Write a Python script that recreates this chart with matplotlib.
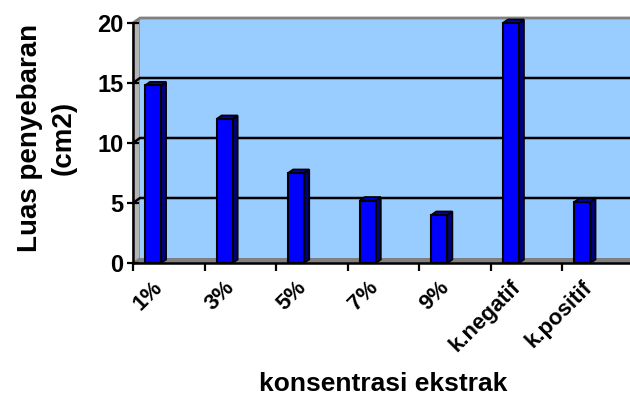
import matplotlib
matplotlib.use("Agg")
import matplotlib.pyplot as plt
from matplotlib.patches import Polygon, Rectangle

plt.rcParams['font.family'] = ['Liberation Sans', 'DejaVu Sans']
plt.rcParams['font.weight'] = 'bold'

categories = ['1%', '3%', '5%', '7%', '9%', 'k.negatif', 'k.positif']
luas = [14.8, 12.0, 7.5, 5.2, 4.0, 20.0, 5.1]
y_ticks = [0, 5, 10, 15, 20]

fig = plt.figure(figsize=(6.3, 3.97), dpi=100)
ax = fig.add_axes([133 / 630, 134 / 397, 501 / 630, 240 / 397])
n = len(categories)
ax.set_xlim(0, n)
ax.set_ylim(0, 20)
ax.patch.set_visible(False)

# depth of the walls and bars, in pixels, turned into data units
px_x = 501 / n
px_y = 240 / 20
wdx, wdy = 7 / px_x, 5 / px_y
bdx, bdy = 5 / px_x, 3.5 / px_y

# walls: left side, floor and back
ax.add_patch(Polygon([(0, 0), (0, 20), (wdx, 20 + wdy), (wdx, wdy)],
                     closed=True, facecolor='#B4B4B4', edgecolor='#808080',
                     lw=1, zorder=0, clip_on=False))
ax.add_patch(Polygon([(0, 0), (n, 0), (n + wdx, wdy), (wdx, wdy)],
                     closed=True, facecolor='#808080', edgecolor='#808080',
                     lw=1, zorder=0, clip_on=False))
ax.add_patch(Rectangle((wdx, wdy), n, 20, facecolor='#99CCFF',
                       edgecolor='none', zorder=0, clip_on=False))
ax.plot([0, wdx, n + wdx], [20, 20 + wdy, 20 + wdy], color='#808080',
        lw=2, zorder=1, clip_on=False)
for v in y_ticks[1:-1]:
    ax.plot([0, wdx, n + wdx], [v, v + wdy, v + wdy], color='black',
            lw=1.8, zorder=1, clip_on=False)

# 3d columns: front face, right side, top
bw = 0.224
for i, v in enumerate(luas):
    x0 = i + 0.168
    x1 = x0 + bw
    ax.add_patch(Polygon([(x1, 0), (x1 + bdx, bdy), (x1 + bdx, v + bdy), (x1, v)],
                         closed=True, facecolor='#000080', edgecolor='black',
                         lw=1.3, zorder=3, clip_on=False))
    ax.add_patch(Polygon([(x0, v), (x0 + bdx, v + bdy), (x1 + bdx, v + bdy), (x1, v)],
                         closed=True, facecolor='#0000CC', edgecolor='black',
                         lw=1.3, zorder=3, clip_on=False))
    ax.add_patch(Rectangle((x0, 0), bw, v, facecolor='#0000FF',
                           edgecolor='black', lw=1.5, zorder=4, clip_on=False))

for s in ['top', 'right']:
    ax.spines[s].set_visible(False)
for s in ['left', 'bottom']:
    ax.spines[s].set_linewidth(1.8)
    ax.spines[s].set_zorder(5)

ax.set_yticks(y_ticks)
ax.set_yticklabels([str(t) for t in y_ticks])
ax.tick_params(axis='y', direction='inout', length=8, width=1.6, pad=3,
               labelsize=17)

ax.set_xticks(range(n + 1))
ax.set_xticklabels([''] * (n + 1))
ax.tick_params(axis='x', which='major', direction='out', length=6, width=1.6)
ax.set_xticks([i + 0.5 - 0.23 for i in range(n)], minor=True)
ax.set_xticklabels(categories, minor=True, rotation=45, ha='right',
                   va='top', rotation_mode='anchor', fontsize=16)
ax.tick_params(axis='x', which='minor', length=0, pad=10)

fig.text(383 / 630, 1 - 384 / 397, 'konsentrasi ekstrak', fontsize=19,
         fontweight='bold', ha='center', va='center')
fig.text(47 / 630, 1 - 138 / 397, 'Luas penyebaran\n(cm2)', fontsize=20,
         fontweight='bold', ha='center', va='center', rotation=90,
         multialignment='center', linespacing=1.4)

fig.savefig('out.png', dpi=100)
